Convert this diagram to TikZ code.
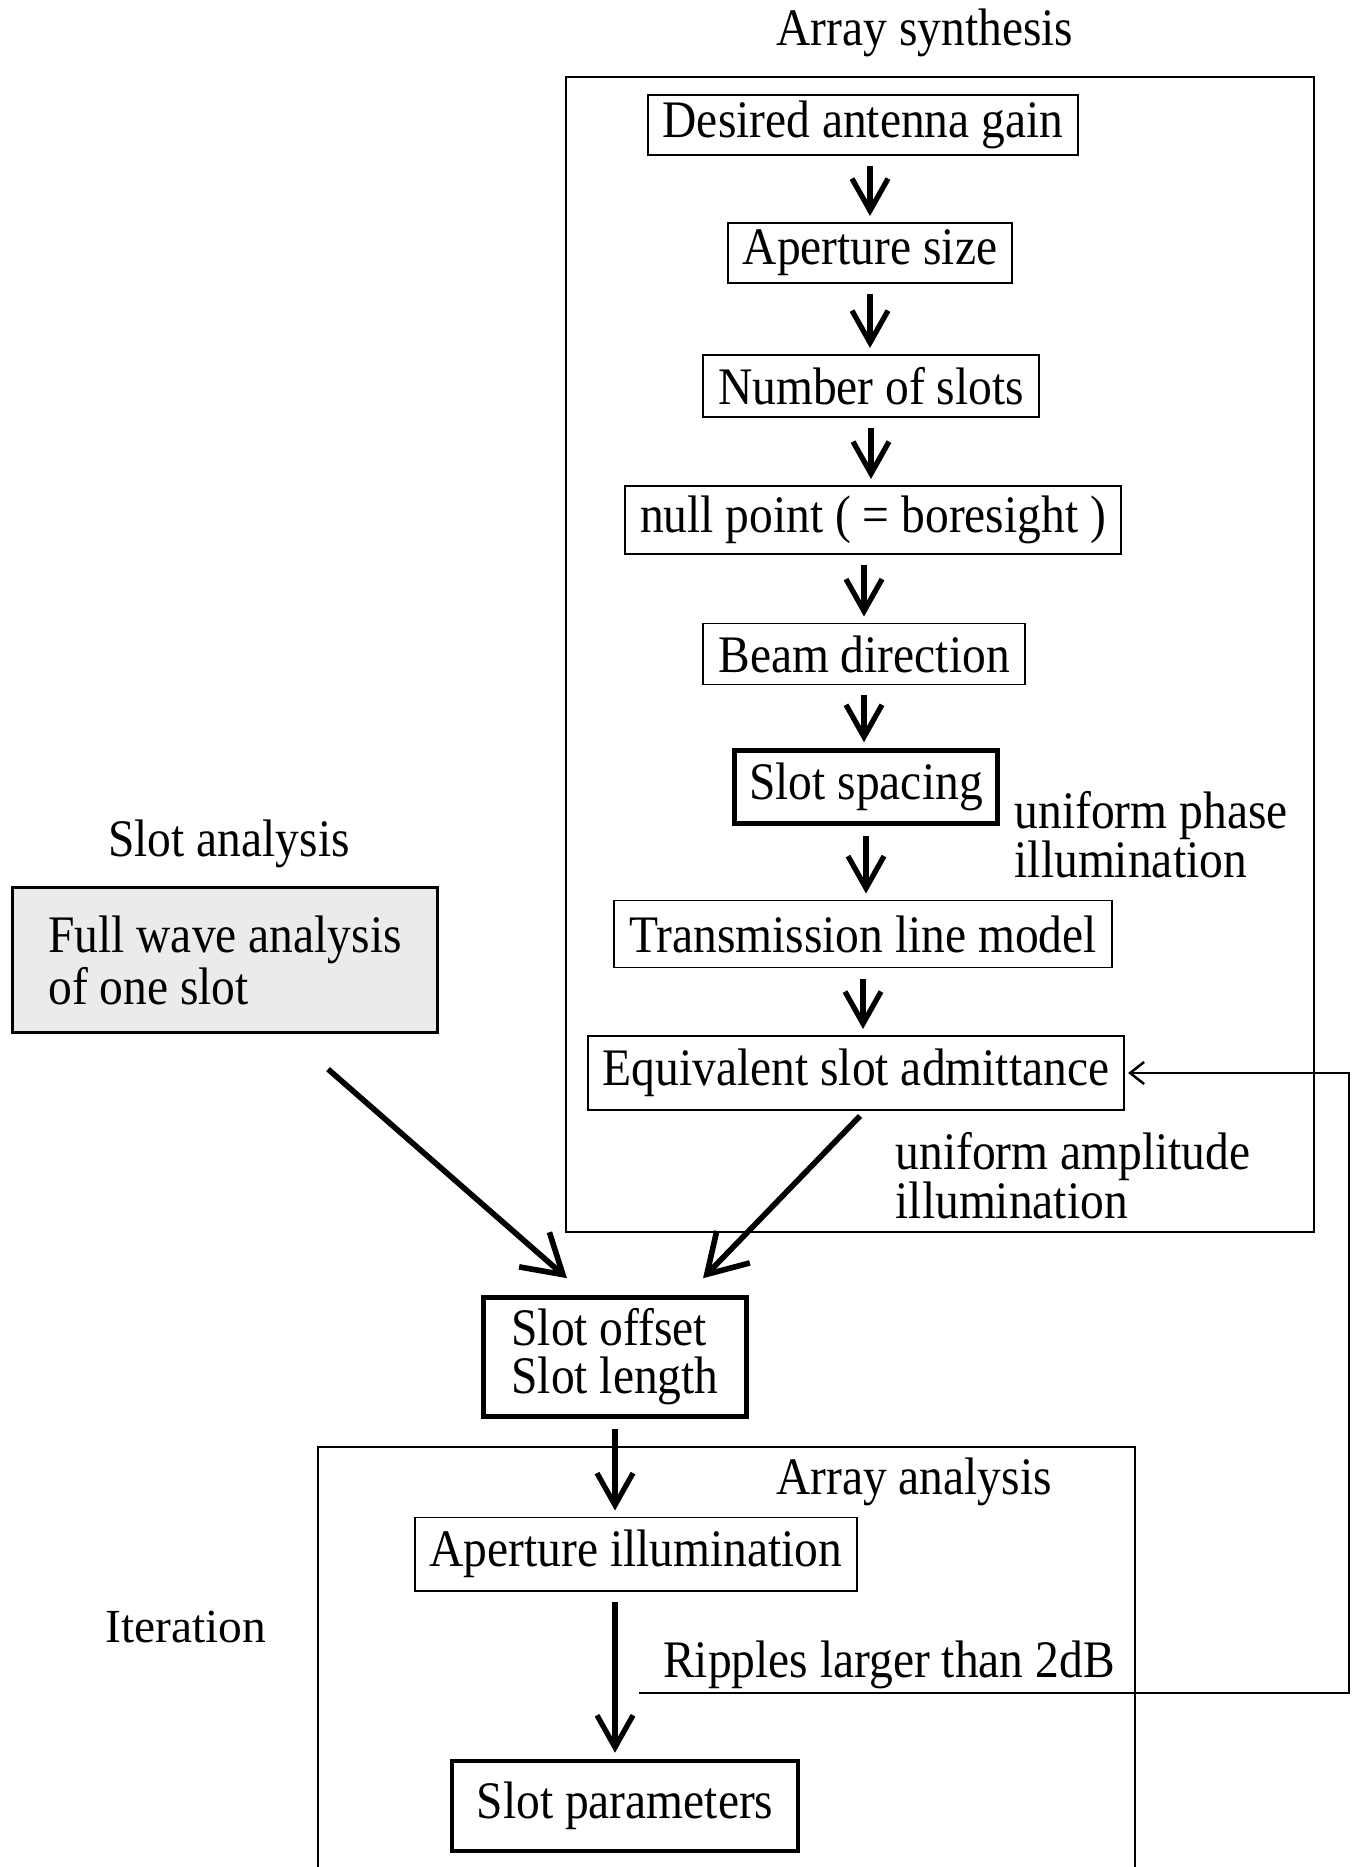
\documentclass[tikz,border=0pt]{standalone}
\usepackage{fontspec}
\setmainfont{Liberation Serif}[FakeStretch=0.9]
\newfontfamily\plainserif{Liberation Serif}
\usetikzlibrary{arrows.meta}
\begin{document}
\begin{tikzpicture}[x=0.01cm, y=-0.01cm, >={Straight Barb[length=0.32cm,width=0.36cm]},
  every node/.style={font=\fontsize{15}{13.7}\selectfont},
  blk/.style={draw, line width=0.55pt, inner xsep=0.15cm, inner ysep=0pt, minimum height=#1},
  blk/.default=0.62cm,
  thickblk/.style={blk=#1, line width=1.3pt},
  thickblk/.default=0.62cm,
  flow/.style={->, line width=1.5pt, shorten <=0.1cm, shorten >=0.06cm},
  bigflow/.style={-{Straight Barb[length=0.38cm,width=0.46cm]}, line width=1.6pt},
  back/.style={-{Straight Barb[length=0.14cm,width=0.22cm]}, line width=0.7pt, shorten >=0.03cm},
  frame/.style={line width=0.55pt}]
  \useasboundingbox (0,0) rectangle (1356,1867);
  \draw[frame] (566,77) rectangle (1314,1232);
  \draw[frame] (318,1867) -- (318,1447) -- (1135,1447) -- (1135,1867);
  \node at (925,33) {Array synthesis};
  \node[blk=0.60cm] (gain) at (863,125) {Desired antenna gain};
  \node[blk=0.60cm] (aper) at (870,253) {Aperture size};
  \node[blk=0.62cm] (nslot) at (871,386) {Number of slots};
  \node[blk=0.68cm] (null) at (873,520) {null point ( = boresight )};
  \node[blk=0.61cm] (beam) at (864,654) {Beam direction};
  \node[thickblk=0.73cm] (spacing) at (866,787) {Slot spacing};
  \node[blk=0.67cm] (tline) at (863,934) {Transmission line model};
  \node[blk=0.74cm] (admit) at (856,1073) {Equivalent slot admittance};
  \node[anchor=north west, inner sep=0pt, align=left] at (1014,791) {uniform phase\\illumination};
  \node[anchor=north west, inner sep=0pt, align=left] at (895,1132) {uniform amplitude\\illumination};
  \draw[flow] (gain.south -| aper.north) -- (aper.north);
  \draw[flow] (aper.south) -- (aper.south |- nslot.north);
  \draw[flow] (nslot.south) -- (nslot.south |- null.north);
  \draw[flow] (beam.north |- null.south) -- (beam.north);
  \draw[flow] (beam.south) -- (beam.south |- spacing.north);
  \draw[flow] (spacing.south) -- (spacing.south |- tline.north);
  \draw[flow] (tline.south) -- (tline.south |- admit.north);
  \node at (229,844) {Slot analysis};
  \node[draw, line width=0.9pt, fill=black!8, align=left, minimum width=4.25cm, minimum height=1.45cm] (fullwave) at (225,960) {Full wave analysis\\of one slot};
  \node[thickblk, align=left, minimum width=2.63cm, minimum height=1.19cm] (offset) at (615,1357) {Slot offset\\Slot length};
  \draw[bigflow] ([xshift=1.03cm,yshift=-0.35cm]fullwave.south) -- ([xshift=-0.48cm,yshift=0.17cm]offset.north);
  \draw[bigflow] ([xshift=0.04cm,yshift=-0.05cm]admit.south) -- ([xshift=0.88cm,yshift=0.17cm]offset.north);
  \node at (914,1482) {Array analysis};
  \node[blk=0.73cm] (illum) at (636,1554) {Aperture illumination};
  \node[thickblk=0.9cm, minimum width=3.46cm] (params) at (625,1806) {Slot parameters};
  \node[font=\plainserif\fontsize{13.5}{16}\selectfont] (iter) at (186,1627) {Iteration};
  \draw[flow] (offset.south) -- (offset.south |- illum.north);
  \draw[flow] (illum.south -| offset.south) -- (params.north -| offset.south);
  \node (ripple) at (889,1665) {Ripples larger than 2dB};
  \coordinate (fbstart) at (639,1693);
  \coordinate (fbcorner) at (1349,1693);
  \draw[back] (fbstart) -- (fbcorner) |- (admit.east);
\end{tikzpicture}
\end{document}
